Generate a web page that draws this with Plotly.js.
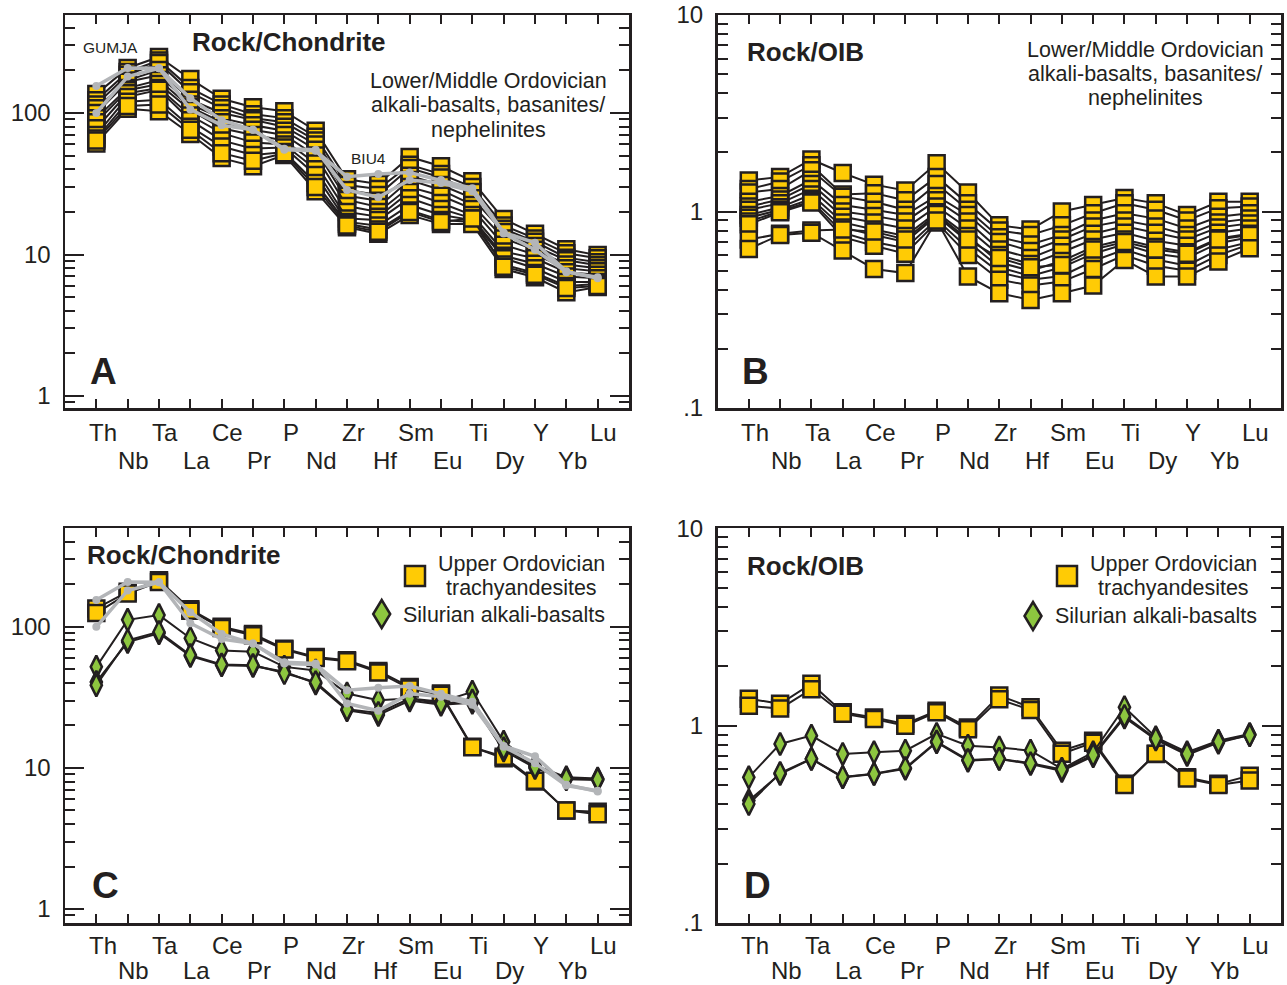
<!DOCTYPE html>
<html><head><meta charset="utf-8">
<script src="https://cdn.plot.ly/plotly-3.0.1.min.js"></script>
<style>html,body{margin:0;padding:0;background:#fff}#chart{width:1287px;height:985px}</style>
</head><body><div id="chart"></div>
<script>
// ---------- data ----------
const ELEMENTS = ['Th','Nb','Ta','La','Ce','Pr','P','Nd','Zr','Hf','Sm','Eu','Ti','Dy','Y','Yb','Lu'];

// Panel A: Lower/Middle Ordovician, Rock/Chondrite
const A1  = [136, 208, 249, 174, 126, 110, 103, 75, 34, 31.5, 48.9, 42, 33, 17.8, 14, 10.9, 9.9];
const A2  = [123, 195, 235, 150, 115, 98, 92, 68, 31, 29, 43, 37, 30, 16, 13, 10.2, 9.4];
const A3  = [115, 186, 226, 140, 108, 92, 86, 64, 28.6, 26.3, 40.8, 35, 27.7, 15.2, 12.3, 9.5, 8.8];
const A4  = [108, 170, 201, 124, 100, 89, 80, 60, 26, 24, 36, 31, 25, 14.4, 11.5, 9.1, 8.4];
const A5  = [100, 166, 185, 115, 92, 82, 75, 55, 24.3, 21.7, 33.6, 28.6, 22.4, 13, 10.8, 8.5, 8.0];
const A6  = [92, 150, 171, 110, 86, 76, 70, 50, 22, 20, 30, 26, 21, 11.7, 10, 8.0, 7.6];
const A7  = [86, 145, 160, 105, 78, 70, 64, 44, 20, 18.5, 27.7, 23.1, 19, 10.5, 9.4, 7.5, 7.2];
const A8  = [78, 138, 150, 96, 72, 62, 60, 40, 18, 17.5, 25, 21, 18, 9.8, 8.6, 7.0, 6.8];
const A9  = [70, 130, 146, 89, 64, 56, 57, 36.5, 17, 16, 22.4, 19, 17.5, 9.4, 8.0, 6.4, 6.4];
const A10 = [66, 120, 124, 80, 58, 50.5, 53, 32, 16.5, 15, 20.5, 17.5, 17, 8.5, 7.4, 6.0, 6.2];
const A11 = [61, 107, 103, 71, 48, 42, 50.5, 28, 15.6, 14, 19, 16.4, 16.4, 7.9, 6.9, 5.4, 5.9];
const A12 = [64, 112, 115, 76, 52, 46, 52, 30, 16, 14.5, 20, 17, 18, 8.2, 7.2, 5.8, 6.0];

// Panel B: same rocks, Rock/OIB
const B1  = [1.44, 1.50, 1.84, 1.57, 1.37, 1.28, 1.76, 1.25, 0.85, 0.81, 1.00, 1.08, 1.17, 1.10, 0.96, 1.12, 1.12];
const B2  = [1.30, 1.42, 1.72, 1.22, 1.24, 1.14, 1.50, 1.10, 0.80, 0.76, 0.85, 0.98, 1.10, 1.02, 0.90, 1.04, 1.06];
const B3  = [1.25, 1.30, 1.62, 1.19, 1.12, 1.02, 1.38, 1.02, 0.74, 0.68, 0.76, 0.90, 0.98, 0.92, 0.82, 0.94, 0.98];
const B4  = [1.12, 1.20, 1.45, 1.08, 1.02, 0.96, 1.20, 0.96, 0.70, 0.63, 0.72, 0.84, 0.90, 0.84, 0.76, 0.88, 0.92];
const B5  = [1.06, 1.15, 1.38, 1.00, 0.95, 0.89, 1.14, 0.89, 0.64, 0.58, 0.67, 0.77, 0.84, 0.78, 0.72, 0.83, 0.87];
const B6  = [1.02, 1.10, 1.30, 0.94, 0.88, 0.82, 1.06, 0.82, 0.60, 0.54, 0.62, 0.72, 0.78, 0.71, 0.67, 0.78, 0.82];
const B7  = [0.96, 1.05, 1.22, 0.88, 0.81, 0.75, 0.99, 0.75, 0.55, 0.50, 0.56, 0.66, 0.72, 0.66, 0.62, 0.73, 0.77];
const B8  = [0.93, 1.02, 1.16, 0.83, 0.76, 0.70, 0.95, 0.70, 0.52, 0.47, 0.52, 0.61, 0.68, 0.61, 0.58, 0.69, 0.74];
const B9  = [0.89, 1.00, 1.13, 0.78, 0.70, 0.65, 0.91, 0.65, 0.49, 0.45, 0.47, 0.56, 0.64, 0.57, 0.53, 0.64, 0.70];
const B10 = [0.86, 0.99, 1.11, 0.74, 0.67, 0.61, 0.88, 0.60, 0.45, 0.42, 0.44, 0.51, 0.60, 0.53, 0.50, 0.60, 0.68];
const B11 = [0.72, 0.77, 0.80, 0.81, 0.79, 0.72, 0.97, 0.72, 0.58, 0.52, 0.535, 0.64, 0.70, 0.64, 0.61, 0.72, 0.76];
const B12 = [0.645, 0.76, 0.78, 0.633, 0.51, 0.486, 0.90, 0.467, 0.384, 0.355, 0.384, 0.42, 0.567, 0.467, 0.467, 0.557, 0.65];

// Reference samples (grey), Rock/Chondrite
const GUMJA = [155, 208, 207, 127, 89, 76, 56, 55, 28.6, 25.4, 33.6, 32, 28, 14.1, 10.8, 7.5, 6.9];
const BIU4  = [100, 181, 207, 106, 82, 76, 55, 54, 35.5, 37, 38, 33.6, 29.4, 14.3, 12.1, 7.6, 6.8];

// Panel C: Rock/Chondrite
const C_TRACHY1 = [135, 177, 214, 133, 100, 89, 70, 61, 58, 48.7, 37.5, 33.7, 14.1, 11.7, 8.0, 5.0, 4.9];
const C_TRACHY2 = [125, 172, 208, 130, 98, 87, 69, 60, 57, 47.5, 36.5, 33, 14.0, 12.0, 8.1, 5.0, 4.7];
const C_SIL1 = [52, 112, 121, 83, 68, 66.6, 52, 49, 33.7, 30.2, 31, 29.4, 34.6, 15.3, 10.4, 8.6, 8.4];
const C_SIL2 = [40.7, 78, 90, 62, 53.5, 52.8, 48, 39.7, 25.6, 23.7, 30, 28, 29, 13.3, 10, 8.3, 8.2];
const C_SIL3 = [38.6, 80, 92, 63, 54, 53.5, 47, 40.5, 26, 24.5, 31, 28.5, 30, 13.8, 10.2, 8.4, 8.3];

// Panel D: Rock/OIB
const D_TRACHY1 = [1.37, 1.29, 1.63, 1.17, 1.10, 1.02, 1.19, 0.98, 1.42, 1.24, 0.747, 0.839, 0.507, 0.719, 0.547, 0.507, 0.558];
const D_TRACHY2 = [1.26, 1.22, 1.53, 1.15, 1.08, 1.00, 1.17, 0.96, 1.36, 1.20, 0.72, 0.82, 0.50, 0.72, 0.54, 0.50, 0.527];
const D_SIL1 = [0.547, 0.808, 0.890, 0.719, 0.733, 0.747, 0.908, 0.792, 0.776, 0.747, 0.604, 0.733, 1.24, 0.873, 0.733, 0.839, 0.908];
const D_SIL2 = [0.417, 0.569, 0.678, 0.547, 0.569, 0.604, 0.823, 0.665, 0.678, 0.640, 0.59, 0.70, 1.10, 0.85, 0.71, 0.82, 0.90];
const D_SIL3 = [0.401, 0.575, 0.68, 0.55, 0.57, 0.61, 0.83, 0.67, 0.68, 0.645, 0.60, 0.71, 1.12, 0.86, 0.72, 0.83, 0.895];

const CHONDRITE_TICKS = [1, 10, 100];
const CHONDRITE_LABELS = ['1', '10', '100'];
const CHONDRITE_MINOR = [0.9, 2, 3, 4, 5, 6, 7, 8, 9, 20, 30, 40, 50, 60, 70, 80, 90, 200, 300, 400];
const OIB_TICKS = [0.1, 1, 10];
const OIB_LABELS = ['.1', '1', '10'];
const OIB_MINOR = [0.2, 0.3, 0.4, 0.5, 0.6, 0.7, 0.8, 0.9, 2, 3, 4, 5, 6, 7, 8, 9];

// ---------- style ----------
const INK = '#231f20';
const YELLOW = '#FFCB05';
const GREEN = '#8DC63F';
const GREY = '#B3B5B8';
const FONT = 'Liberation Sans, Arial, Helvetica, sans-serif';
const W = 1287, H = 985;
const px = v => v / W;
const py = v => 1 - v / H;

function sq(y, xa, ya) {
  return {x: ELEMENTS, y: y, xaxis: xa, yaxis: ya, type: 'scatter', mode: 'lines+markers',
    line: {color: INK, width: 2}, showlegend: false, hoverinfo: 'skip',
    marker: {symbol: 'square', size: 16, color: YELLOW, line: {color: INK, width: 2.5}}};
}
function dia(y, xa, ya) {
  return {x: ELEMENTS, y: y, xaxis: xa, yaxis: ya, type: 'scatter', mode: 'lines+markers',
    line: {color: INK, width: 2}, showlegend: false, hoverinfo: 'skip',
    marker: {symbol: 'diamond-tall', size: 16, color: GREEN, line: {color: INK, width: 2.5}}};
}
function grey(y, xa, ya) {
  return {x: ELEMENTS, y: y, xaxis: xa, yaxis: ya, type: 'scatter', mode: 'lines+markers',
    line: {color: GREY, width: 3.5}, showlegend: false, hoverinfo: 'skip',
    marker: {symbol: 'circle', size: 8, color: GREY}};
}

const traces = [];
[A1,A2,A3,A4,A5,A6,A7,A8,A9,A10,A11,A12].forEach(s => traces.push(sq(s, 'x', 'y')));
traces.push(grey(GUMJA, 'x', 'y'), grey(BIU4, 'x', 'y'));
[B1,B2,B3,B4,B5,B6,B7,B8,B9,B10,B11,B12].forEach(s => traces.push(sq(s, 'x2', 'y2')));
[C_TRACHY1, C_TRACHY2].forEach(s => traces.push(sq(s, 'x3', 'y3')));
[C_SIL1, C_SIL2, C_SIL3].forEach(s => traces.push(dia(s, 'x3', 'y3')));
traces.push(grey(GUMJA, 'x3', 'y3'), grey(BIU4, 'x3', 'y3'));
[D_TRACHY1, D_TRACHY2].forEach(s => traces.push(sq(s, 'x4', 'y4')));
[D_SIL1, D_SIL2, D_SIL3].forEach(s => traces.push(dia(s, 'x4', 'y4')));

function xax(domain, anchor) {
  return {domain: domain, anchor: anchor, type: 'category', categoryorder: 'array', categoryarray: ELEMENTS,
    range: [-1, 17], tickmode: 'array', tickvals: ELEMENTS, showticklabels: false,
    ticks: 'inside', ticklen: 9, tickwidth: 2, tickcolor: INK,
    showline: true, linecolor: INK, linewidth: 2.5, mirror: 'ticks',
    showgrid: false, zeroline: false, fixedrange: true};
}
function yax(domain, anchor, range, tv, tt, minor) {
  return {domain: domain, anchor: anchor, type: 'log', range: range,
    tickmode: 'array', tickvals: tv, ticktext: tt,
    ticks: 'inside', ticklen: 19, tickwidth: 2, tickcolor: INK,
    minor: {tickmode: 'array', tickvals: minor, ticks: 'inside', ticklen: 10, tickwidth: 2, tickcolor: INK, showgrid: false},
    tickfont: {family: FONT, size: 24, color: INK}, ticklabelstandoff: 7,
    showline: true, linecolor: INK, linewidth: 2.5, mirror: 'ticks',
    showgrid: false, zeroline: false, fixedrange: true};
}

const domXL = [px(65), px(629)], domXR = [px(717.5), px(1281)];
const domYT = [py(408), py(15)], domYB = [py(923), py(528.3)];

const annotations = [];
function txt(text, x, y, size, bold, anchor) {
  annotations.push({text: bold ? '<b>' + text + '</b>' : text, x: px(x), y: py(y), xref: 'paper', yref: 'paper',
    xanchor: anchor || 'center', yanchor: 'middle', showarrow: false,
    font: {family: FONT, size: size, color: INK}});
}
// element labels under each panel
[['x', 'y', 24, 52], ['x2', 'y2', 24, 52], ['x3', 'y3', 22, 47.5], ['x4', 'y4', 22, 47.5]].forEach(([xa, ya, r1, r2]) => {
  ELEMENTS.forEach((el, i) => {
    annotations.push({text: el, x: i + 0.2, xref: xa, y: 0, yref: ya + ' domain',
      xanchor: 'center', yanchor: 'middle', yshift: (i % 2 ? -r2 : -r1), showarrow: false,
      font: {family: FONT, size: 24, color: INK}});
  });
});

// Panel A texts
txt('Rock/Chondrite', 289, 42, 26, true);
txt('GUMJA', 110, 47.5, 15.5);
txt('BIU4', 368, 159, 15.5);
txt('Lower/Middle Ordovician', 488, 81, 21.5);
txt('alkali-basalts, basanites/', 488, 105, 21.5);
txt('nephelinites', 488, 129.5, 21.5);
txt('A', 103, 372, 37, true);
// Panel B texts
txt('Rock/OIB', 805, 52, 26, true);
txt('Lower/Middle Ordovician', 1145, 50, 21.5);
txt('alkali-basalts, basanites/', 1145, 74, 21.5);
txt('nephelinites', 1145, 98, 21.5);
txt('B', 755, 372, 37, true);
// Panel C texts
txt('Rock/Chondrite', 184, 555, 26, true);
txt('Upper Ordovician', 521.7, 564, 21.5);
txt('trachyandesites', 521.7, 588, 21.5);
txt('Silurian alkali-basalts', 401, 615, 21.5, false, 'left');
txt('C', 105, 885, 37, true);
// Panel D texts
txt('Rock/OIB', 805, 566, 26, true);
txt('Upper Ordovician', 1173, 564, 21.5);
txt('trachyandesites', 1173, 588, 21.5);
txt('Silurian alkali-basalts', 1053, 616, 21.5, false, 'left');
txt('D', 757, 885, 37, true);

// legend symbols
const shapes = [];
function legSquare(cx, cy) {
  shapes.push({type: 'rect', xref: 'paper', yref: 'paper', x0: px(cx - 10), x1: px(cx + 10), y0: py(cy + 10), y1: py(cy - 10),
    fillcolor: YELLOW, line: {color: INK, width: 2.5}});
}
function legDiamond(cx, cy) {
  const w = 8.5, h = 14;
  shapes.push({type: 'path', xref: 'paper', yref: 'paper',
    path: `M${px(cx)},${py(cy - h)} L${px(cx + w)},${py(cy)} L${px(cx)},${py(cy + h)} L${px(cx - w)},${py(cy)} Z`,
    fillcolor: GREEN, line: {color: INK, width: 2.5}});
}
legSquare(415, 576); legDiamond(381.7, 614);
legSquare(1067, 576); legDiamond(1033, 616);

const layout = {
  width: W, height: H, margin: {l: 0, r: 0, t: 0, b: 0},
  paper_bgcolor: '#ffffff', plot_bgcolor: '#ffffff', showlegend: false,
  font: {family: FONT, color: INK},
  xaxis: xax(domXL, 'y'), yaxis: yax(domYT, 'x', [-0.0848, 2.6926], CHONDRITE_TICKS, CHONDRITE_LABELS, CHONDRITE_MINOR),
  xaxis2: xax(domXR, 'y2'), yaxis2: yax(domYT, 'x2', [-1, 1], OIB_TICKS, OIB_LABELS, OIB_MINOR),
  xaxis3: xax(domXL, 'y3'), yaxis3: yax(domYB, 'x3', [-0.099, 2.698], CHONDRITE_TICKS, CHONDRITE_LABELS, CHONDRITE_MINOR),
  xaxis4: xax(domXR, 'y4'), yaxis4: yax(domYB, 'x4', [-1, 1], OIB_TICKS, OIB_LABELS, OIB_MINOR),
  annotations: annotations, shapes: shapes
};
Plotly.newPlot('chart', traces, layout, {staticPlot: true, displayModeBar: false});
</script></body></html>
